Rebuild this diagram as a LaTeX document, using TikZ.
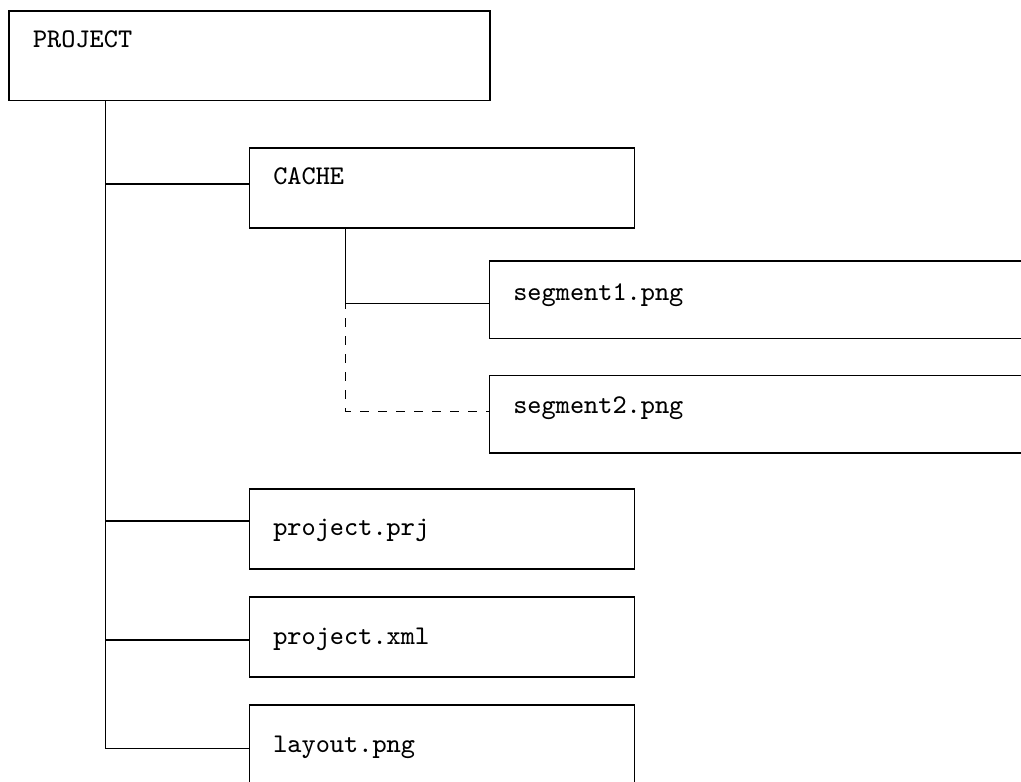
\documentclass[tikz,border=0pt]{standalone}
\usetikzlibrary{positioning}
\newdimen\pxu \pxu=0.33333pt
\begin{document}
\begin{tikzpicture}[x=0.33333pt,y=-0.33333pt,
  every node/.style={draw,rectangle,anchor=north west,outer sep=0pt,inner xsep=24\pxu,inner ysep=0pt,align=left,font=\small\ttfamily},
  wide/.style={text width=337\pxu},
  widest/.style={text width=520\pxu}]
\useasboundingbox (0,0) rectangle (1021,782);
\clip (0,0) rectangle (1021,782);
\node [text width=433\pxu,text height=36\pxu,text depth=53.7\pxu] (project) at (9,11) {PROJECT};
\node [wide,text height=36\pxu,text depth=44\pxu] (cache) at (249.3,148) {CACHE};
\node [widest,text height=39\pxu,text depth=38.5\pxu] (seg1) at (489.3,261) {segment1.png};
\node [widest,text height=38\pxu,text depth=39.5\pxu,below=37\pxu of seg1.south west,anchor=north west] (seg2) {segment2.png};
\node [wide,text height=46\pxu,text depth=34\pxu] (prj) at (249.3,489) {project.prj};
\node [wide,text height=47\pxu,text depth=33\pxu,below=28\pxu of prj.south west,anchor=north west] (xml) {project.xml};
\node [wide,text height=47\pxu,text depth=33\pxu,below=28\pxu of xml.south west,anchor=north west] (layout) {layout.png};
\coordinate (projectfork) at ([xshift=96.4\pxu]project.south west);
\coordinate (cachefork) at ([xshift=96.4\pxu]cache.south west);
\draw (projectfork) |- ([yshift=4\pxu]cache.west);
\draw (projectfork) |- ([yshift=8\pxu]prj.west);
\draw (projectfork) |- ([yshift=-3\pxu]xml.west);
\draw (projectfork) |- ([yshift=-3.5\pxu]layout.west);
\draw (cachefork) |- ([yshift=-4\pxu]seg1.west);
\draw[dashed] (cachefork) |- ([yshift=3\pxu]seg2.west);
\end{tikzpicture}
\end{document}
